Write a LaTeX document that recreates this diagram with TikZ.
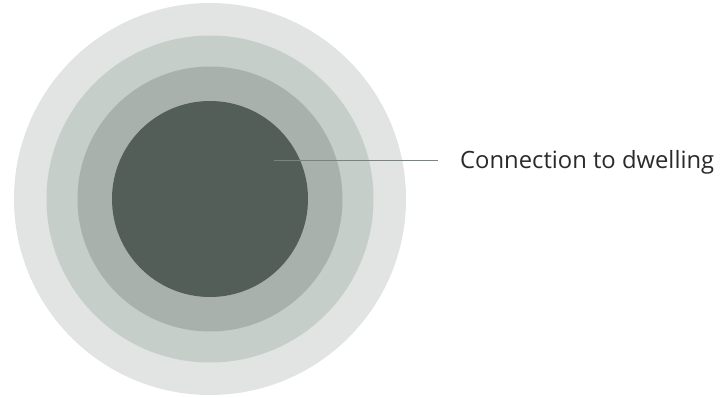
\documentclass[tikz,border=0pt]{standalone}
\usepackage{fontspec}
\setmainfont{Open Sans}
\definecolor{ringa}{HTML}{E1E4E2}
\definecolor{ringb}{HTML}{C5CEC9}
\definecolor{ringc}{HTML}{A8B1AC}
\definecolor{ringd}{HTML}{545E58}
\definecolor{leader}{HTML}{76857D}
\definecolor{labeltext}{HTML}{2A2A2A}
\begin{document}
\begin{tikzpicture}
    [x=1pt,y=-1pt,inner sep=0pt,
     ring/.style={circle,draw=none}]
    \useasboundingbox (0,0) rectangle (724,398);
    \node (outer) at (210,199) [ring,fill=ringa,minimum size=392pt] {};
    \node (second) at (210,199) [ring,fill=ringb,minimum size=327pt] {};
    \node (third) at (210,199) [ring,fill=ringc,minimum size=265pt] {};
    \node (core) at (210,199) [ring,fill=ringd,minimum size=196pt] {};
    \coordinate (tap) at (274,161);
    \node (label) at (438,169) [anchor=base west,inner xsep=22pt,
      text=labeltext,font=\fontsize{23.8}{28}\selectfont] {Connection to dwelling};
    \draw [leader,line width=1pt] (tap) to (tap -| label.west);
  \end{tikzpicture}
\end{document}
